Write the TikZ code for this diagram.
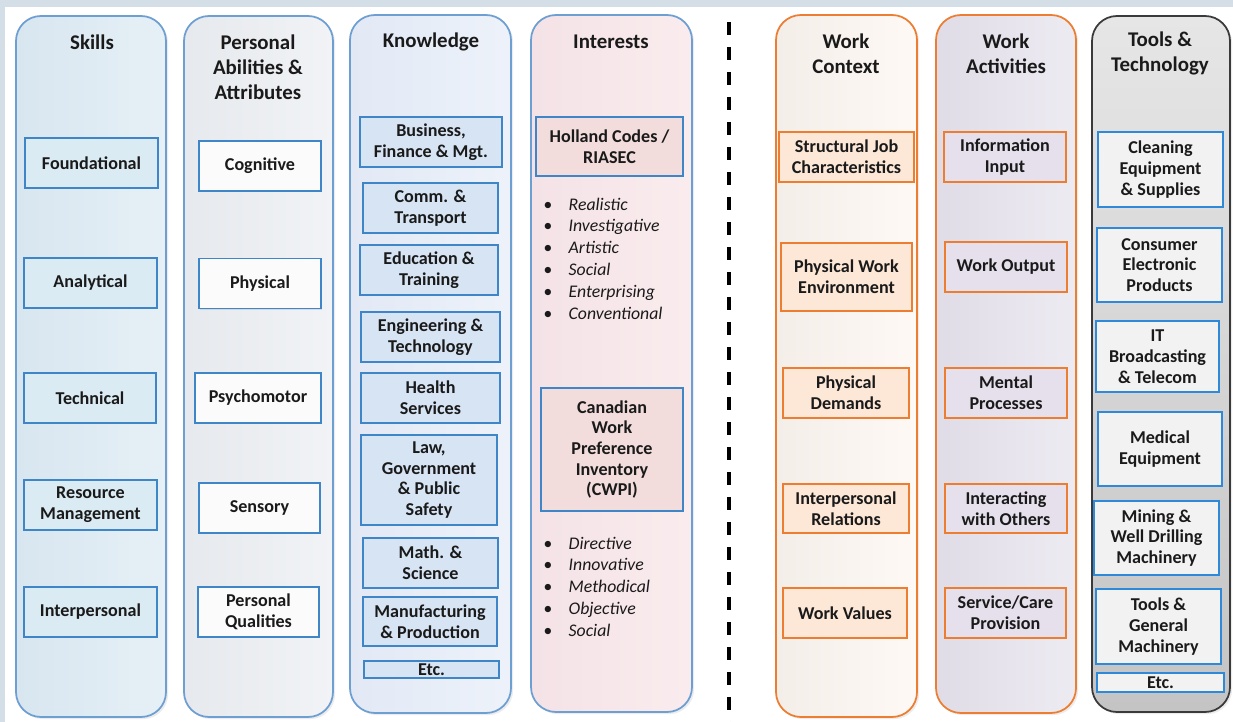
\documentclass[tikz,border=0pt]{standalone}
\usepackage{fontspec}
\setmainfont{Carlito}
\usetikzlibrary{positioning}
\usetikzlibrary{shadows}

\definecolor{frame}{HTML}{D3DEE6}
\definecolor{colline}{HTML}{6E9FD3}
\definecolor{blueline}{HTML}{3F86C8}
\definecolor{orangeline}{HTML}{ED7D31}
\definecolor{greyline}{HTML}{3A3A3A}
\definecolor{toolline}{HTML}{2E8AD8}
\definecolor{skillsL}{HTML}{D8E6F0}
\definecolor{skillsR}{HTML}{E6F0F6}
\definecolor{skillsbox}{HTML}{DAEBF3}
\definecolor{abilL}{HTML}{E6E9ED}
\definecolor{abilR}{HTML}{F1F3F6}
\definecolor{abilbox}{HTML}{FBFBFB}
\definecolor{knowL}{HTML}{E2E9F5}
\definecolor{knowR}{HTML}{EDF2FA}
\definecolor{knowbox}{HTML}{D7E4F4}
\definecolor{intL}{HTML}{F4E2E6}
\definecolor{intR}{HTML}{FAECEE}
\definecolor{intbox}{HTML}{F2DCDC}
\definecolor{ctxL}{HTML}{F4EEE9}
\definecolor{ctxR}{HTML}{FEF9F5}
\definecolor{ctxbox}{HTML}{FDE7D7}
\definecolor{actL}{HTML}{E0DCE7}
\definecolor{actR}{HTML}{EDEBF2}
\definecolor{actbox}{HTML}{E6E0EC}
\definecolor{toolT}{HTML}{E6E6E6}
\definecolor{toolB}{HTML}{C4C4C4}
\definecolor{toolbox}{HTML}{F2F2F2}
\definecolor{ink}{HTML}{1A1A1A}

\newcommand{\headfont}{\fontsize{11.9}{14.2}\selectfont\bfseries}
\newcommand{\boxfont}{\fontsize{10.3}{11.8}\selectfont\bfseries}
\newcommand{\listfont}{\fontsize{10.1}{12.4}\selectfont\itshape}

\tikzset{
  wh/.style 2 args={minimum width=#1*0.02cm, minimum height=#2*0.02cm},
  col/.style={draw, rounded corners=0.5cm, line width=1pt, inner sep=0pt,
    drop shadow={opacity=0.15, shadow xshift=1.2pt, shadow yshift=-1.2pt}},
  item/.style={draw, line width=0.9pt, inner sep=0pt, align=center, font=\boxfont,
    text=ink, drop shadow={opacity=0.2, shadow xshift=0.8pt, shadow yshift=-0.8pt}},
  head/.style={align=center, font=\headfont, inner sep=0pt, text=ink},
  bullets/.style={align=left, font=\listfont, inner sep=0pt, anchor=west, text=ink},
  sep/.style={line width=0.07cm, dash pattern=on 0.26cm off 0.24cm},
}

\begin{document}
\begin{tikzpicture}[x=0.02cm, y=-0.02cm]
  % Fondo
  \fill[white] (0,0) rectangle (1233,722);
  \fill[frame] (0,0) rectangle (1233,7);
  \fill[frame] (0,0) rectangle (5,722);
  \useasboundingbox (0,0) rectangle (1233,722);

  % Columnas
  \node[col, wh={150}{701}, draw=colline, left color=skillsL, right color=skillsR] (skills) at (91,366.5) {};
  \node[col, wh={149}{701}, draw=colline, left color=abilL, right color=abilR] (abilities) at (258.5,366.5) {};
  \node[col, wh={161}{698}, draw=colline, left color=knowL, right color=knowR] (knowledge) at (430.5,364) {};
  \node[col, wh={161}{697}, draw=colline, left color=intL, right color=intR] (interests) at (611.5,363.5) {};
  \node[col, wh={141}{702}, draw=orangeline, left color=ctxL, right color=ctxR] (context) at (846.5,366) {};
  \node[col, wh={140}{698}, draw=orangeline, left color=actL, right color=actR] (activities) at (1006,364) {};
  \node[col, wh={138}{696}, draw=greyline, top color=toolT, bottom color=toolB] (tools) at (1161,364) {};

  % Titulos
  \node[head] (skills-t) at (92,42) {Skills};
  \node[head] (abilities-t) at (258,67) {Personal\\Abilities \&\\Attributes};
  \node[head] (knowledge-t) at (431,42) {Knowledge};
  \node[head] (interests-t) at (611,42) {Interests};
  \node[head] (context-t) at (846,53.5) {Work\\Context};
  \node[head] (activities-t) at (1006,53.5) {Work\\Activities};
  \node[head] (tools-t) at (1160,53.5) {Tools \&\\Technology};

  % Skills
  \node[item, wh={133}{50}, draw=blueline, fill=skillsbox] (foundational) at (91.5,163) {Foundational};
  \node[item, wh={133}{50}, draw=blueline, fill=skillsbox] (analytical) at (90.5,283) {Analytical};
  \node[item, wh={132}{50}, draw=blueline, fill=skillsbox] (technical) at (90,398) {Technical};
  \node[item, wh={133}{50}, draw=blueline, fill=skillsbox] (resource) at (90.5,505) {Resource\\Management};
  \node[item, wh={133}{50}, draw=blueline, fill=skillsbox] (interpersonal) at (90.5,612) {Interpersonal};

  % Abilities
  \node[item, wh={122}{50}, draw=blueline, fill=abilbox] (cognitive) at (260,166) {Cognitive};
  \node[item, wh={122}{50}, draw=blueline, fill=abilbox] (physical) at (260,283.5) {Physical};
  \node[item, wh={126}{50}, draw=blueline, fill=abilbox] (psychomotor) at (258,398) {Psychomotor};
  \node[item, wh={121}{50}, draw=blueline, fill=abilbox] (sensory) at (259.5,508) {Sensory};
  \node[item, wh={121}{50}, draw=blueline, fill=abilbox] (qualities) at (258.5,612) {Personal\\Qualities};

  % Knowledge
  \node[item, wh={142}{50}, draw=blueline, fill=knowbox] (business) at (431,142) {Business,\\Finance \& Mgt.};
  \node[item, wh={135}{50}, draw=blueline, fill=knowbox] (comm) at (430.5,208) {Comm. \&\\Transport};
  \node[item, wh={138}{50}, draw=blueline, fill=knowbox] (education) at (429,270) {Education \&\\Training};
  \node[item, wh={139}{50}, draw=blueline, fill=knowbox] (engineering) at (430.5,337) {Engineering \&\\Technology};
  \node[item, wh={139}{50}, draw=blueline, fill=knowbox] (health) at (430.5,398) {Health\\Services};
  \node[item, wh={136}{90}, draw=blueline, fill=knowbox] (law) at (429,480) {Law,\\Government\\\& Public\\Safety};
  \node[item, wh={135}{50}, draw=blueline, fill=knowbox] (math) at (430.5,563) {Math. \&\\Science};
  \node[item, wh={134}{49}, draw=blueline, fill=knowbox] (manufacturing) at (430,621.5) {Manufacturing\\\& Production};
  \node[item, wh={135}{17}, draw=blueline, fill=knowbox] (know-etc) at (431.5,669.5) {Etc.};

  % Interests
  \node[item, wh={147}{59}, draw=blueline, fill=intbox] (holland) at (609.5,146.5) {Holland Codes /\\RIASEC};
  \node[bullets] (holland-list) at (543,258.5)
    {\textbullet\hspace{3.3mm}Realistic\\\textbullet\hspace{3.3mm}Investigative\\\textbullet\hspace{3.3mm}Artistic\\
     \textbullet\hspace{3.3mm}Social\\\textbullet\hspace{3.3mm}Enterprising\\\textbullet\hspace{3.3mm}Conventional};
  \node[item, wh={142}{123}, draw=blueline, fill=intbox] (cwpi) at (612,449.5) {Canadian\\Work\\Preference\\Inventory\\(CWPI)};
  \node[bullets] (cwpi-list) at (543,586.5)
    {\textbullet\hspace{3.3mm}Directive\\\textbullet\hspace{3.3mm}Innovative\\\textbullet\hspace{3.3mm}Methodical\\
     \textbullet\hspace{3.3mm}Objective\\\textbullet\hspace{3.3mm}Social};

  % Separador
  \coordinate (sep-top) at (729,22);
  \coordinate (sep-bot) at (729,722);
  \draw[sep] (sep-top) -- (sep-bot);

  % Work Context
  \node[item, wh={135}{50}, draw=orangeline, fill=ctxbox] (structural) at (846.5,157) {Structural Job\\Characteristics};
  \node[item, wh={131}{68}, draw=orangeline, fill=ctxbox] (environment) at (846.5,277) {Physical Work\\Environment};
  \node[item, wh={126}{50}, draw=orangeline, fill=ctxbox] (demands) at (846,393) {Physical\\Demands};
  \node[item, wh={126}{49}, draw=orangeline, fill=ctxbox] (relations) at (846,508.5) {Interpersonal\\Relations};
  \node[item, wh={124}{50}, draw=orangeline, fill=ctxbox] (values) at (845,613) {Work Values};

  % Work Activities
  \node[item, wh={122}{50}, draw=orangeline, fill=actbox] (input) at (1005,157) {Information\\Input};
  \node[item, wh={122}{50}, draw=orangeline, fill=actbox] (output) at (1006,267) {Work Output};
  \node[item, wh={122}{50}, draw=orangeline, fill=actbox] (mental) at (1006,393) {Mental\\Processes};
  \node[item, wh={122}{49}, draw=orangeline, fill=actbox] (interacting) at (1006,508.5) {Interacting\\with Others};
  \node[item, wh={121}{50}, draw=orangeline, fill=actbox] (service) at (1005.5,613) {Service/Care\\Provision};

  % Tools & Technology
  \node[item, wh={125}{75}, draw=toolline, fill=toolbox] (cleaning) at (1160.5,169.5) {Cleaning\\Equipment\\\& Supplies};
  \node[item, wh={125}{74}, draw=toolline, fill=toolbox] (consumer) at (1159.5,265) {Consumer\\Electronic\\Products};
  \node[item, wh={123}{71}, draw=toolline, fill=toolbox] (it) at (1157.5,356.5) {IT\\Broadcasting\\\& Telecom};
  \node[item, wh={124}{74}, draw=toolline, fill=toolbox] (medical) at (1160,449) {Medical\\Equipment};
  \node[item, wh={125}{74}, draw=toolline, fill=toolbox] (mining) at (1156.5,538) {Mining \&\\Well Drilling\\Machinery};
  \node[item, wh={125}{75}, draw=toolline, fill=toolbox] (general) at (1158.5,626.5) {Tools \&\\General\\Machinery};
  \node[item, wh={127}{19}, draw=toolline, fill=toolbox] (tools-etc) at (1160.5,682.5) {Etc.};
\end{tikzpicture}
\end{document}
